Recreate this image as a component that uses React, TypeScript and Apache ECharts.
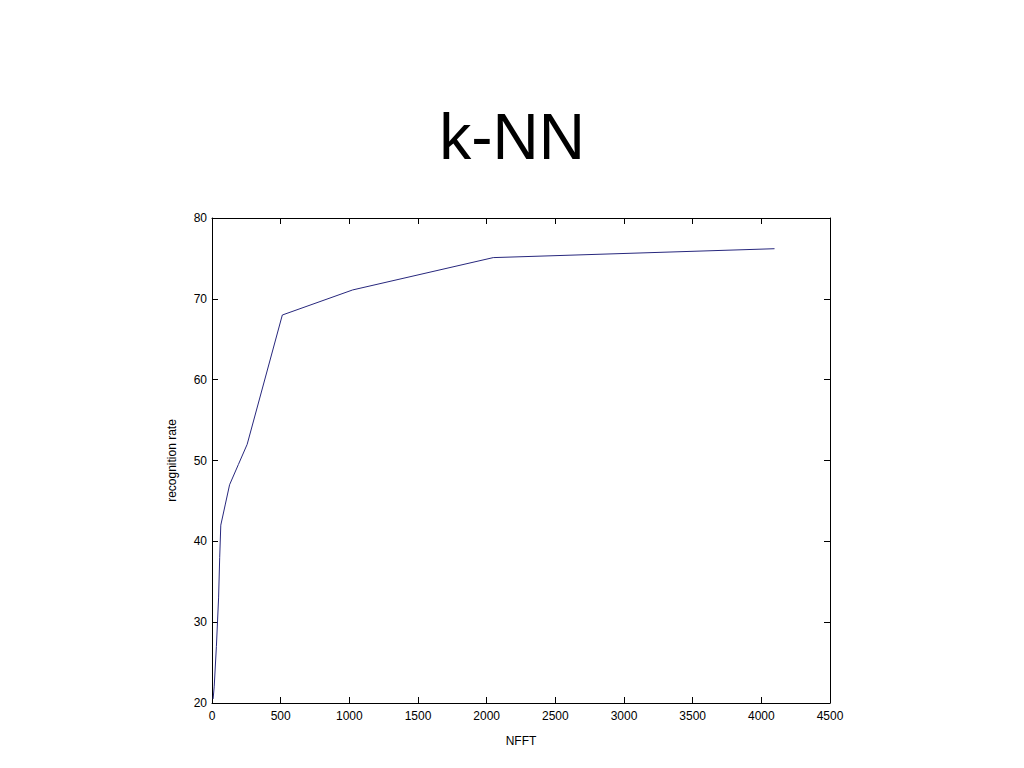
import React, { useEffect, useRef } from "react";
import * as echarts from "echarts";

const nfft = [8, 16, 32, 48, 56, 64, 96, 128, 192, 256, 512, 1024, 2048, 4096];
const rate = [20.5, 22, 27, 33, 38, 42, 44.5, 47, 49.5, 52, 68, 71.1, 75.1, 76.2];
const xTicks = { min: 0, max: 4500, interval: 500 };
const yTicks = { min: 20, max: 80, interval: 10 };

export default function App() {
  const ref = useRef<HTMLDivElement>(null);
  useEffect(() => {
    const chart = echarts.init(ref.current!, undefined, { renderer: "svg" });
    const font = "'Liberation Sans', Arial, sans-serif";
    const mk = () => ({
      axisLine: { show: true, onZero: false, lineStyle: { color: "#000", width: 1 } },
      axisTick: { show: true, inside: true, length: 6, lineStyle: { color: "#000", width: 1 } },
      splitLine: { show: false },
    });
    const labelStyle = { fontFamily: font, fontSize: 12, color: "#000", formatter: (v: number) => String(v) };
    chart.setOption({
      animation: false,
      backgroundColor: "#fff",
      title: {
        text: "k-NN",
        left: "center",
        top: 100,
        textStyle: { fontFamily: font, fontSize: 64, fontWeight: "normal", color: "#000" },
      },
      grid: { left: 212, right: 194, top: 218, bottom: 65 },
      xAxis: [
        {
          type: "value",
          ...xTicks,
          ...mk(),
          position: "bottom",
          name: "NFFT",
          nameLocation: "middle",
          nameGap: 32,
          nameTextStyle: { fontFamily: font, fontSize: 12, color: "#000" },
          axisLabel: { ...labelStyle, margin: 7 },
        },
        {
          type: "value",
          ...xTicks,
          ...mk(),
          position: "top",
          axisLabel: { show: false },
        },
      ],
      yAxis: [
        {
          type: "value",
          ...yTicks,
          ...mk(),
          position: "left",
          name: "recognition rate",
          nameLocation: "middle",
          nameGap: 34,
          nameTextStyle: { fontFamily: font, fontSize: 12, color: "#000" },
          axisLabel: { ...labelStyle, margin: 5 },
        },
        {
          type: "value",
          ...yTicks,
          ...mk(),
          position: "right",
          axisLabel: { show: false },
        },
      ],
      series: [
        {
          type: "line",
          data: nfft.map((x, i) => [x, rate[i]]),
          showSymbol: false,
          lineStyle: { color: "#27277d", width: 1 },
          xAxisIndex: 0,
          yAxisIndex: 0,
        },
      ],
    });
    return () => chart.dispose();
  }, []);
  return (
    <div
      ref={ref}
      style={{ position: "fixed", left: 0, top: 0, width: 1024, height: 768, background: "#fff" }}
    />
  );
}
